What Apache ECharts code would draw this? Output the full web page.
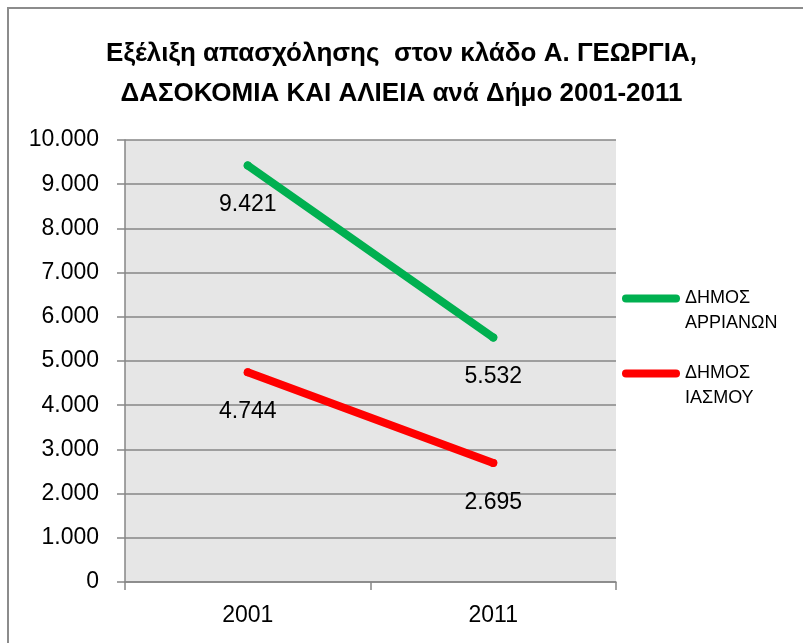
<!DOCTYPE html>
<html>
<head>
<meta charset="utf-8">
<script src="https://cdn.jsdelivr.net/npm/echarts@6/dist/echarts.min.js"></script>
<style>
html, body { margin: 0; padding: 0; background: #fff; }
#chart { width: 803px; height: 643px; }
</style>
</head>
<body>
<div id="chart"></div>
<script>
var years = ['2001', '2011'];
var arrianon = [9421, 5532];
var iasmou = [4744, 2695];
var seriesNames = ['ΔΗΜΟΣ ΑΡΡΙΑΝΩΝ', 'ΔΗΜΟΣ ΙΑΣΜΟΥ'];

var FONT = '"Liberation Sans", Arial, sans-serif';

// 9421 -> 9.421
function fmt(v) {
    return String(v).replace(/\B(?=(\d{3})+(?!\d))/g, '.');
}

var myChart = echarts.init(document.getElementById('chart'));

var labelOpt = {
    show: true,
    position: 'bottom',
    distance: 24,
    fontFamily: FONT,
    fontSize: 23,
    color: '#000',
    formatter: function (p) { return fmt(p.value); }
};

var option = {
    backgroundColor: '#fff',
    animation: false,
    graphic: [{
        type: 'rect',
        shape: { x: 8, y: 8, width: 900, height: 900 },
        style: { fill: 'none', stroke: '#8c8c8c', lineWidth: 2 },
        silent: true
    }],
    title: {
        text: 'Εξέλιξη απασχόλησης  στον κλάδο Α. ΓΕΩΡΓΙΑ,\nΔΑΣΟΚΟΜΙΑ ΚΑΙ ΑΛΙΕΙΑ ανά Δήμο 2001-2011',
        left: 'center',
        top: 29,
        textStyle: {
            fontFamily: FONT,
            fontSize: 26,
            fontWeight: 'bold',
            lineHeight: 40,
            color: '#000'
        }
    },
    legend: {
        orient: 'vertical',
        left: 622,
        top: 261,
        padding: 0,
        itemGap: 0,
        itemWidth: 58,
        itemHeight: 8,
        icon: 'path://M4,0 L54,0 A4,4 0 0 1 54,8 L4,8 A4,4 0 0 1 4,0 Z',
        data: seriesNames,
        // blank first line so the icon sits next to the first text line
        formatter: function (name) { return ' \n' + name.replace(' ', '\n'); },
        textStyle: {
            fontFamily: FONT,
            fontSize: 18,
            lineHeight: 25,
            color: '#000'
        }
    },
    grid: {
        left: 125,
        top: 140,
        right: 187,
        bottom: 61,
        show: true,
        backgroundColor: '#e6e6e6',
        borderWidth: 0
    },
    xAxis: {
        type: 'category',
        data: years,
        boundaryGap: true,
        axisLine: { show: true, lineStyle: { color: '#868686', width: 1.5 } },
        axisTick: { show: true, length: 8, lineStyle: { color: '#868686', width: 1.5 } },
        axisLabel: { fontFamily: FONT, fontSize: 23, color: '#000', margin: 22 },
        splitLine: { show: false }
    },
    yAxis: {
        type: 'value',
        min: 0,
        max: 10000,
        interval: 1000,
        axisLine: { show: true, lineStyle: { color: '#868686', width: 1.5 } },
        axisTick: { show: true, length: 8, lineStyle: { color: '#868686', width: 1.5 } },
        axisLabel: {
            fontFamily: FONT,
            fontSize: 23,
            color: '#000',
            margin: 26,
            formatter: function (v) { return fmt(v); }
        },
        splitLine: { show: true, lineStyle: { color: '#868686', width: 1.5 } }
    },
    series: [
        {
            name: seriesNames[0],
            type: 'line',
            data: arrianon,
            color: '#00b050',
            symbol: 'circle',
            symbolSize: 8,
            lineStyle: { width: 8, cap: 'round', color: '#00b050' },
            itemStyle: { color: '#00b050' },
            label: labelOpt
        },
        {
            name: seriesNames[1],
            type: 'line',
            data: iasmou,
            color: '#ff0000',
            symbol: 'circle',
            symbolSize: 8,
            lineStyle: { width: 8, cap: 'round', color: '#ff0000' },
            itemStyle: { color: '#ff0000' },
            label: labelOpt
        }
    ]
};

myChart.setOption(option);
</script>
</body>
</html>
